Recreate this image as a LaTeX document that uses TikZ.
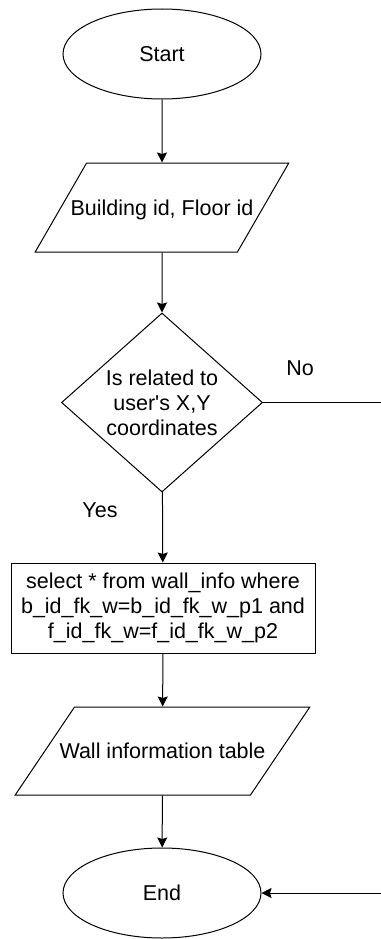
\documentclass[tikz,border=0pt]{standalone}
\usepackage{fontspec}
\setmainfont{Liberation Sans}
\usepackage{tikz}
\usetikzlibrary{shapes.geometric,arrows.meta}

\tikzset{
    box/.style={draw, line width=1pt, align=center, inner sep=0pt},
    term/.style={box, ellipse, minimum width=198pt, minimum height=90pt},
    io/.style={box, trapezium, trapezium left angle=60, trapezium right angle=120,
        trapezium stretches body=true, text height=17.5pt, text depth=2.5pt,
        inner ysep=34.5pt, inner xsep=-16pt},
    arrow/.style={line width=1pt, -{Stealth[length=10pt, width=10pt, inset=1.5pt]}}
}

\begin{document}
\begin{tikzpicture}[x=1pt, y=-1pt, font=\fontsize{21.5}{25}\selectfont]
    \useasboundingbox (0,0) rectangle (380,939);
    \node[term] (start) at (162,54) {Start};
    \node[io] (input) at (162,207.5) {Building id, Floor id};
    \node[box, diamond, minimum width=201pt, minimum height=179pt] (related) at (162,402.5)
        {Is related to\\user\textquotesingle s X,Y\\coordinates};
    \node[box, rectangle, minimum width=304pt, minimum height=90pt] (query) at (163,608)
        {select * from wall\_info where\\b\_id\_fk\_w=b\_id\_fk\_w\_p1 and\\f\_id\_fk\_w=f\_id\_fk\_w\_p2};
    \node[io, inner ysep=34pt, inner xsep=-15pt, trapezium left angle=56,
        trapezium right angle=124] (output) at (162.5,751) {Wall information table};
    \node[term] (end) at (162,893) {End};
    \coordinate (noturn) at (420,402.5);
    \draw[arrow] (start) -- (input);
    \draw[arrow] (input) -- (related);
    \draw[arrow] (related) -- (query);
    \draw[arrow] (query) -- (output);
    \draw[arrow] (output) -- (end);
    \draw[arrow] (related.east) -- (noturn) |- (end.east);
    \node (nolabel) at (300,368) {No};
    \node (yeslabel) at (100,510) {Yes};
\end{tikzpicture}
\end{document}
